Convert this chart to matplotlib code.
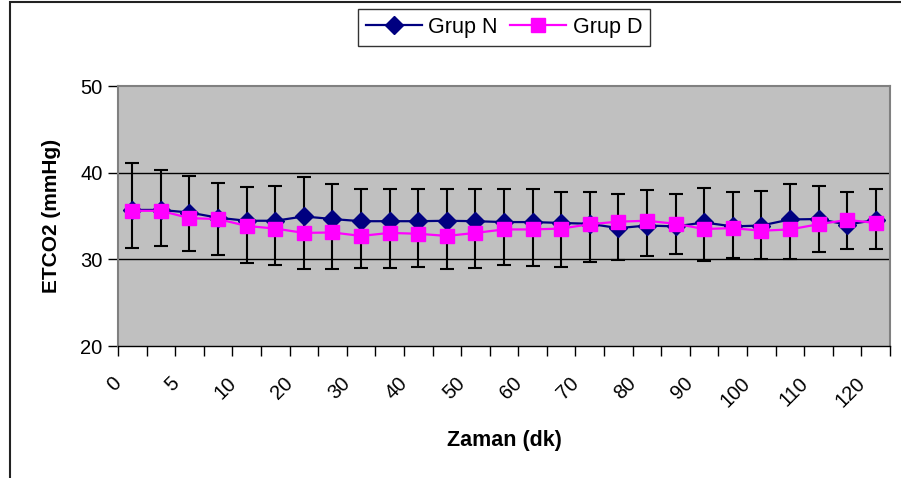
import numpy as np
import matplotlib
matplotlib.use('Agg')
import matplotlib.pyplot as plt
import matplotlib.transforms as mtransforms
from matplotlib.patches import Rectangle

plt.rcParams['font.family'] = ['Liberation Sans', 'DejaVu Sans']

# categories (only every other label is shown, as in the original)
labels = ['0', '2.5', '5', '7.5', '10', '15', '20', '25', '30', '35', '40', '45', '50',
          '55', '60', '65', '70', '75', '80', '85', '90', '95', '100', '105', '110',
          '115', '120']

grup_n = [35.7, 35.7, 35.4, 34.8, 34.45, 34.45, 34.95, 34.65, 34.4, 34.4, 34.4, 34.45,
          34.4, 34.3, 34.3, 34.2, 34.1, 33.6, 33.9, 33.8, 34.25, 33.8, 33.9, 34.6,
          34.65, 34.0, 34.55]
grup_d = [35.6, 35.6, 34.75, 34.65, 33.85, 33.55, 33.05, 33.1, 32.7, 33.05, 32.95, 32.7,
          33.05, 33.45, 33.45, 33.55, 34.05, 34.35, 34.45, 34.1, 33.5, 33.6, 33.3, 33.45,
          34.05, 34.55, 34.2]
err_hi = [41.15, 40.3, 39.6, 38.75, 38.35, 38.5, 39.45, 38.7, 38.15, 38.1, 38.1, 38.1,
          38.15, 38.1, 38.1, 37.8, 37.75, 37.5, 38.0, 37.5, 38.25, 37.75, 37.9, 38.65,
          38.5, 37.75, 38.15]
err_lo = [31.25, 31.5, 30.95, 30.55, 29.6, 29.3, 28.85, 28.85, 28.95, 29.05, 29.1, 28.9,
          29.0, 29.4, 29.25, 29.15, 29.65, 29.95, 30.35, 30.65, 29.8, 30.2, 30.05, 30.0,
          30.9, 31.15, 31.2]

x = np.arange(len(labels))
n = np.array(grup_n)
yerr = [n - np.array(err_lo), np.array(err_hi) - n]

fig = plt.figure(figsize=(9.01, 4.78), dpi=100)
ax = fig.add_axes([118/901, 1-346/478, (890-118)/901, (346-86)/478])
ax.set_facecolor('#C0C0C0')

ax.errorbar(x, n, yerr=yerr, fmt='none', ecolor='black', elinewidth=1.5,
            capsize=4.7, capthick=1.5, zorder=2)
ax.plot(x, grup_n, color='#000080', lw=1.6, marker='D', ms=9.5, label='Grup N', zorder=3)
ax.plot(x, grup_d, color='#FF00FF', lw=1.6, marker='s', ms=10.5, label='Grup D', zorder=4)

ax.set_xlim(-0.5, len(labels) - 0.5)
ax.set_ylim(20, 50)
ax.set_yticks([20, 30, 40, 50])
for yv in [30, 40]:
    ax.axhline(yv, color='black', lw=1, zorder=1)

# category boundary tick marks, labels on every second category
ax.set_xticks(np.arange(-0.5, len(labels)), minor=True)
ax.set_xticks(x[::2])
ax.set_xticklabels(labels[::2], rotation=45, ha='right', va='top', fontsize=14.5)
ax.tick_params(axis='x', which='major', length=0, pad=20)
ax.tick_params(axis='x', which='minor', length=7, width=1, color='black')
ax.tick_params(axis='y', length=7, width=1, labelsize=14.5, pad=4)
offset = mtransforms.ScaledTranslation(-7/100, 0, fig.dpi_scale_trans)
for lab in ax.get_xticklabels():
    lab.set_transform(lab.get_transform() + offset)

for s in ['left', 'top', 'right']:
    ax.spines[s].set_color('#808080')
    ax.spines[s].set_linewidth(1.5)
ax.spines['bottom'].set_color('black')
ax.spines['bottom'].set_linewidth(1)

ax.set_xlabel('Zaman (dk)', fontsize=15.5, fontweight='bold', labelpad=14)
ax.set_ylabel('ETCO2 (mmHg)', fontsize=15, fontweight='bold', labelpad=14)

leg = fig.legend(loc='center', bbox_to_anchor=(504/901, 1-27.5/478), ncol=2,
                 fontsize=15.5, frameon=True, fancybox=False, edgecolor='black',
                 handlelength=2.6, columnspacing=0.6, handletextpad=0.3,
                 borderpad=0.35, borderaxespad=0)
leg.get_frame().set_linewidth(1)

fig.add_artist(Rectangle((10/901, -0.1), 1.2, 1.1 - 2.5/478, transform=fig.transFigure,
                         fill=False, edgecolor='#222222', lw=1.5))

fig.savefig('out.png', dpi=100)
